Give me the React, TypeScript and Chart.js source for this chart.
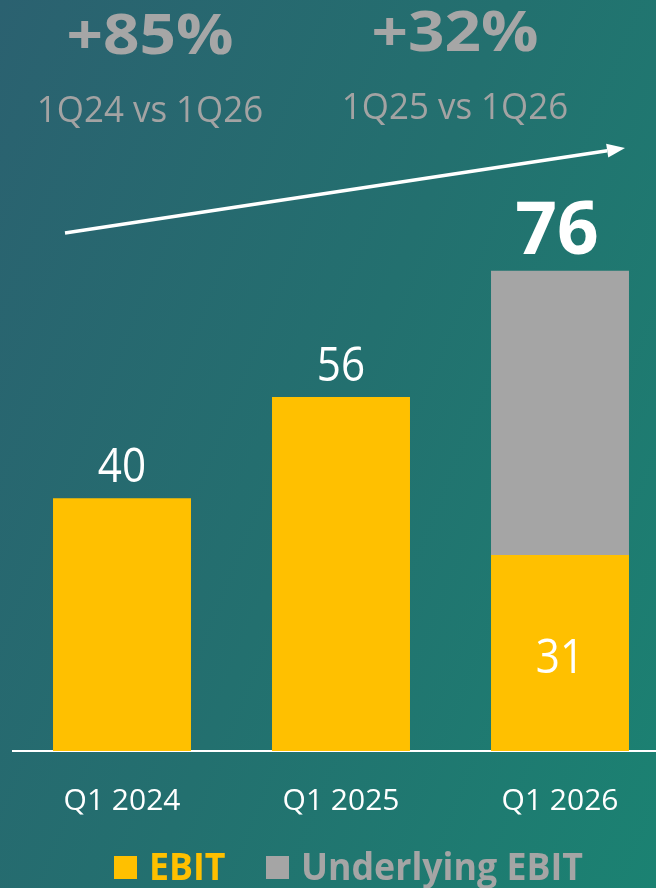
import React, { useEffect, useRef } from "react";
import { Chart, registerables } from "chart.js";

Chart.register(...registerables);

const categories = ["Q1 2024", "Q1 2025", "Q1 2026"];
const ebitValues = [40, 56, 31];
const underlyingValues = [0, 0, 45];
const seriesNames = ["EBIT", "Underlying EBIT"];
const growthValues = ["+85%", "+32%"];
const growthLabels = ["1Q24 vs 1Q26", "1Q25 vs 1Q26"];

const YELLOW = "#FFC000";
const GRAY = "#A5A5A5";
const FONT = "'Open Sans', 'Noto Sans', sans-serif";

function drawText(
  ctx: CanvasRenderingContext2D,
  text: string,
  x: number,
  y: number,
  font: string,
  color: string,
  sx: number,
  align: CanvasTextAlign = "center"
) {
  ctx.save();
  ctx.translate(x, y);
  ctx.scale(sx, 1);
  ctx.font = font;
  ctx.fillStyle = color;
  ctx.textAlign = align;
  ctx.textBaseline = "alphabetic";
  ctx.fillText(text, 0, 0);
  ctx.restore();
}

const decorPlugin = {
  id: "decor",
  afterDatasetsDraw(chart: any) {
    const ctx: CanvasRenderingContext2D = chart.ctx;
    const n = categories.length;
    const metas = chart.data.datasets.map((_: any, d: number) => chart.getDatasetMeta(d));
    for (let i = 0; i < n; i++) {
      const vals = chart.data.datasets.map((ds: any) => ds.data[i] as number);
      const total = vals.reduce((a: number, b: number) => a + b, 0);
      let topY = Infinity;
      let segCount = 0;
      metas.forEach((m: any, d: number) => {
        if (vals[d] > 0) {
          segCount++;
          topY = Math.min(topY, m.data[i].y);
        }
      });
      const x = metas[0].data[i].x;
      if (segCount > 1) {
        drawText(ctx, String(total), x - 3, topY - 17, `bold 73px ${FONT}`, "#FFFFFF", 1);
        const el = metas[0].data[i];
        drawText(ctx, String(vals[0]), x, (el.y + el.base) / 2 + 20, `48px ${FONT}`, "#FFFFFF", 0.88);
      } else {
        drawText(ctx, String(total), x, topY - 16, `48px ${FONT}`, "#FFFFFF", 0.88);
      }
    }

    // headline growth figures
    const headX = [150, 455];
    const headY = [54, 51];
    const subY = [122, 119];
    growthValues.forEach((g, k) => {
      drawText(ctx, g, headX[k], headY[k], `bold 56px ${FONT}`, "#A6A6A6", 1.14);
      drawText(ctx, growthLabels[k], headX[k], subY[k], `36px ${FONT}`, "#A3A3A3", 0.97);
    });

    // trend arrow
    const x0 = 65, y0 = 233, x1 = 625, y1 = 148;
    const ang = Math.atan2(y1 - y0, x1 - x0);
    const headLen = 18, headW = 7;
    const bx = x1 - headLen * Math.cos(ang);
    const by = y1 - headLen * Math.sin(ang);
    ctx.save();
    ctx.strokeStyle = "#FFFFFF";
    ctx.fillStyle = "#FFFFFF";
    ctx.lineWidth = 3.5;
    ctx.beginPath();
    ctx.moveTo(x0, y0);
    ctx.lineTo(bx, by);
    ctx.stroke();
    ctx.beginPath();
    ctx.moveTo(x1, y1);
    ctx.lineTo(bx + headW * Math.sin(ang), by - headW * Math.cos(ang));
    ctx.lineTo(bx - headW * Math.sin(ang), by + headW * Math.cos(ang));
    ctx.closePath();
    ctx.fill();
    ctx.restore();

    // legend
    const legX = [114, 266];
    chart.data.datasets.forEach((ds: any, d: number) => {
      ctx.save();
      ctx.fillStyle = ds.backgroundColor;
      ctx.fillRect(legX[d], 856, 23, 23);
      ctx.restore();
      drawText(ctx, ds.label, legX[d] + 35, 880, `bold 38px ${FONT}`, ds.backgroundColor, 0.94, "left");
    });
  },
};

export default function App() {
  const ref = useRef<HTMLCanvasElement | null>(null);
  useEffect(() => {
    if (!ref.current) return;
    Chart.defaults.font.family = FONT;
    const chart = new Chart(ref.current, {
      type: "bar",
      data: {
        labels: categories,
        datasets: [
          {
            label: seriesNames[0],
            data: ebitValues,
            backgroundColor: YELLOW,
            borderWidth: 0,
            barPercentage: 0.63,
            categoryPercentage: 1,
          },
          {
            label: seriesNames[1],
            data: underlyingValues,
            backgroundColor: GRAY,
            borderWidth: 0,
            barPercentage: 0.63,
            categoryPercentage: 1,
          },
        ],
      },
      options: {
        animation: false,
        responsive: true,
        maintainAspectRatio: false,
        layout: { padding: { top: 119, left: 12.5, right: 2.5, bottom: 0 } },
        plugins: {
          legend: { display: false },
          tooltip: { enabled: false },
        },
        scales: {
          x: {
            stacked: true,
            z: 1,
            grid: { display: false, drawTicks: false },
            border: { display: true, color: "#FFFFFF", width: 2 },
            ticks: {
              color: "#FFFFFF",
              font: { size: 30, family: FONT },
              padding: 32,
            },
            afterFit: (scale: any) => {
              scale.height = 137;
            },
          },
          y: {
            stacked: true,
            display: false,
            min: 0,
            max: 100,
          },
        },
      },
      plugins: [decorPlugin],
    });
    return () => chart.destroy();
  }, []);

  return (
    <div
      style={{
        position: "fixed",
        left: 0,
        top: 0,
        width: 656,
        height: 888,
        overflow: "hidden",
        background: "linear-gradient(112deg, #2b6170 0%, #23706f 50%, #1b8272 100%)",
      }}
    >
      <div style={{ position: "absolute", left: 0, top: 0, width: 672, height: 888 }}>
        <canvas ref={ref} />
      </div>
    </div>
  );
}
